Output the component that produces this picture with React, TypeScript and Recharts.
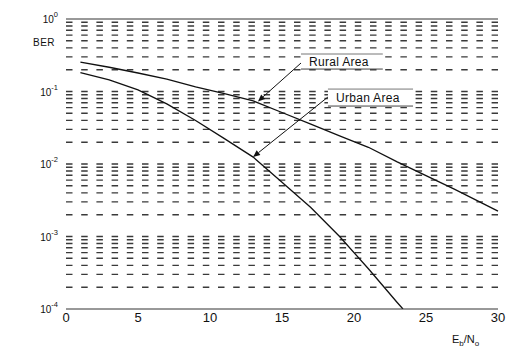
import React from 'react';
import { LineChart, Line, XAxis, YAxis, ReferenceLine } from 'recharts';

// Eb/No sample positions and BER readings
const SNR_RURAL = [1, 3, 5, 7, 9, 11, 13, 15, 17, 19, 21, 23, 25, 27, 29, 30];
const BER_RURAL = [0.254, 0.216, 0.18, 0.148, 0.116, 0.0933, 0.0741, 0.0513, 0.0355, 0.0245, 0.017, 0.0107, 0.00692, 0.00447, 0.00282, 0.00224];
const SNR_URBAN = [1, 3, 5, 7, 9, 11, 13, 15, 17, 19, 21, 23, 23.4];
const BER_URBAN = [0.182, 0.145, 0.105, 0.0676, 0.0398, 0.0224, 0.01245, 0.00562, 0.00251, 0.001, 0.000359, 0.000123, 0.0001];

const X_TICKS = [0, 5, 10, 15, 20, 25, 30];
const Y_TICKS = [1, 0.1, 0.01, 0.001, 0.0001];
const GRID_VALUES = [
  0.9, 0.8, 0.7, 0.6, 0.5, 0.4, 0.3, 0.2, 0.1,
  0.09, 0.08, 0.07, 0.06, 0.05, 0.04, 0.03, 0.02, 0.01,
  0.009, 0.008, 0.007, 0.006, 0.005, 0.004, 0.003, 0.002, 0.001,
  0.0009, 0.0008, 0.0007, 0.0006, 0.0005, 0.0004, 0.0003, 0.0002,
];

// annotations (data coordinates)
const RURAL_LABEL = { text: 'Rural Area', boxX: [16.32, 22.0], boxY: [0.329, 0.204], arrowFrom: [16.32, 0.247], arrowTo: [13.33, 0.073] };
const URBAN_LABEL = { text: 'Urban Area', boxX: [18.19, 24.1], boxY: [0.108, 0.063], arrowFrom: [18.19, 0.084], arrowTo: [12.99, 0.0125] };

const FONT = '"Liberation Sans", Arial, sans-serif';

const allX = Array.from(new Set([...SNR_RURAL, ...SNR_URBAN])).sort((a, b) => a - b);
const data = allX.map((x) => {
  const ri = SNR_RURAL.indexOf(x);
  const ui = SNR_URBAN.indexOf(x);
  return { snr: x, rural: ri >= 0 ? BER_RURAL[ri] : null, urban: ui >= 0 ? BER_URBAN[ui] : null };
});

const YTick = (props: any) => {
  const { x, y, payload } = props;
  const e = Math.round(Math.log10(payload.value));
  return (
    <text x={x} y={y + 4} textAnchor="end" fontSize={10} fontFamily={FONT} fill="#111">
      10<tspan dy={-6} fontSize={7.5}>{String(e)}</tspan>
    </text>
  );
};

const arrowShape = (props: any) => {
  const { x1, y1, x2, y2 } = props;
  const ang = Math.atan2(y2 - y1, x2 - x1);
  const L = 7, W = 3;
  const bx = x2 - L * Math.cos(ang), by = y2 - L * Math.sin(ang);
  const px = -Math.sin(ang) * W, py = Math.cos(ang) * W;
  return (
    <g>
      <line x1={x1} y1={y1} x2={bx} y2={by} stroke="#111" strokeWidth={1} />
      <polygon points={`${x2},${y2} ${bx + px},${by + py} ${bx - px},${by - py}`} fill="#111" />
    </g>
  );
};

const boxShape = (text: string) => (props: any) => {
  const { x1, y1, x2, y2 } = props;
  const left = Math.min(x1, x2), right = Math.max(x1, x2);
  const top = Math.min(y1, y2), bottom = Math.max(y1, y2);
  return (
    <g>
      <rect x={left} y={top} width={right - left} height={bottom - top} fill="#fff" />
      <line x1={left} y1={top} x2={right} y2={top} stroke="#777" strokeWidth={1} />
      <line x1={left} y1={bottom} x2={right} y2={bottom} stroke="#444" strokeWidth={1} />
      <text x={left + 8} y={(top + bottom) / 2 + 4.5} fontSize={12} fontFamily={FONT} fill="#111" letterSpacing={0.3}>{text}</text>
    </g>
  );
};

const renderAnnot = (a: typeof RURAL_LABEL, key: string) => [
  <ReferenceLine key={key + 'box'} segment={[{ x: a.boxX[0], y: a.boxY[0] }, { x: a.boxX[1], y: a.boxY[1] }]} shape={boxShape(a.text)} ifOverflow="visible" />,
  <ReferenceLine key={key + 'a'} segment={[{ x: a.arrowFrom[0], y: a.arrowFrom[1] }, { x: a.arrowTo[0], y: a.arrowTo[1] }]} shape={arrowShape} ifOverflow="visible" />,
];

export default function App() {
  return (
    <div style={{ position: 'absolute', left: 0, top: 0, width: 512, height: 349, background: '#fff' }}>
      <LineChart width={512} height={349} data={data} margin={{ top: 19, right: 14, left: 0, bottom: 0 }}>
        <XAxis
          dataKey="snr"
          type="number"
          domain={[0, 30]}
          ticks={X_TICKS}
          tickLine={false}
          tickSize={0}
          tickMargin={4}
          height={40}
          axisLine={{ stroke: '#333', strokeWidth: 1 }}
          tick={{ fontSize: 13, fontFamily: FONT, fill: '#111' }}
          label={{
            content: (p: any) => {
              const vb = p.viewBox || { x: 66, y: 309, width: 432, height: 40 };
              return (
                <text x={vb.x + vb.width - 46} y={vb.y + 34} fontSize={11} fontFamily={FONT} fill="#111">
                  E<tspan dy={3} fontSize={8}>b</tspan><tspan dy={-3}>/N</tspan><tspan dy={3} fontSize={8}>o</tspan>
                </text>
              );
            },
          }}
        />
        <YAxis
          type="number"
          scale="log"
          domain={[0.0001, 1]}
          allowDataOverflow
          ticks={Y_TICKS}
          width={66}
          axisLine={false}
          tickLine={false}
          tickSize={0}
          tickMargin={8}
          tick={<YTick />}
          label={{
            content: (p: any) => {
              const vb = p.viewBox || { x: 0, y: 19 };
              return (
                <text x={vb.x + 33} y={vb.y + 27} fontSize={10} fontFamily={FONT} fill="#111" letterSpacing={0.5}>BER</text>
              );
            },
          }}
        />
        {GRID_VALUES.map((v) => (
          <ReferenceLine key={'g' + v} y={v} stroke="#3a3a3a" strokeWidth={1.4} strokeDasharray="6.5 8.7" />
        ))}
        <ReferenceLine y={1} stroke="#333" strokeWidth={1} />
        <Line type="linear" dataKey="rural" stroke="#111" strokeWidth={1.3} dot={false} connectNulls isAnimationActive={false} />
        <Line type="linear" dataKey="urban" stroke="#111" strokeWidth={1.3} dot={false} connectNulls isAnimationActive={false} />
        {renderAnnot(RURAL_LABEL, 'r')}
        {renderAnnot(URBAN_LABEL, 'u')}
      </LineChart>
    </div>
  );
}
